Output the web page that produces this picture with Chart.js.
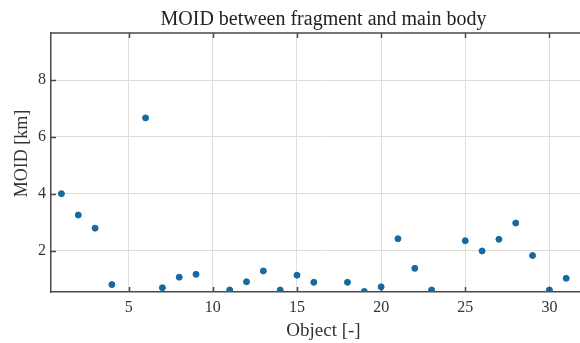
<!DOCTYPE html>
<html>
<head>
<meta charset="utf-8">
<script src="https://cdn.jsdelivr.net/npm/chart.js@4"></script>
<style>
  html, body { margin: 0; padding: 0; background: #fff; overflow: hidden; }
  #wrap { width: 600px; height: 343px; }
</style>
</head>
<body>
<div id="wrap"><canvas id="moidChart" width="600" height="343"></canvas></div>
<script>
// object index and MOID values (null = not visible)
const objects = [1, 2, 3, 4, 5, 6, 7, 8, 9, 10, 11, 12, 13, 14, 15, 16,
                 17, 18, 19, 20, 21, 22, 23, 24, 25, 26, 27, 28, 29, 30, 31];
const moid = [4.01, 3.26, 2.80, 0.82, null, 6.67, 0.71, 1.08, 1.18, null, 0.63, 0.92, 1.30, 0.63, 1.15, 0.90,
              null, 0.90, 0.58, 0.74, 2.43, 1.39, 0.63, null, 2.36, 2.00, 2.41, 2.98, 1.84, 0.63, 1.04];
const xTicks = [5, 10, 15, 20, 25, 30];
const yTicks = [2, 4, 6, 8];

const axisColor = '#4a4a4a';
const gridColor = '#dedede';
const serif = "'Liberation Serif', 'DejaVu Serif', serif";

// MATLAB style: ticks pointing inwards + top border of the box
const innerTicks = {
    id: 'innerTicks',
    afterDraw(chart) {
        const ctx = chart.ctx;
        const area = chart.chartArea;
        const x = chart.scales.x;
        const y = chart.scales.y;
        const len = 5;
        ctx.save();
        ctx.strokeStyle = axisColor;
        ctx.lineWidth = 1.5;
        ctx.beginPath();
        ctx.moveTo(area.left, area.top);
        ctx.lineTo(area.right, area.top);
        xTicks.forEach(v => {
            const px = Math.round(x.getPixelForValue(v)) + 0.5;
            ctx.moveTo(px, area.bottom);
            ctx.lineTo(px, area.bottom - len);
            ctx.moveTo(px, area.top);
            ctx.lineTo(px, area.top + len);
        });
        yTicks.forEach(v => {
            const py = Math.round(y.getPixelForValue(v)) + 0.5;
            ctx.moveTo(area.left, py);
            ctx.lineTo(area.left + len, py);
        });
        ctx.stroke();
        ctx.restore();
    }
};

const ctx = document.getElementById('moidChart').getContext('2d');
new Chart(ctx, {
    type: 'scatter',
    data: {
        labels: objects,
        datasets: [{
            data: objects.map((o, i) => ({ x: o, y: moid[i] })),
            backgroundColor: '#176a9e',
            borderColor: '#176a9e',
            pointRadius: 3,
            pointHoverRadius: 3
        }]
    },
    options: {
        responsive: false,
        animation: false,
        layout: { padding: 0 },
        plugins: {
            legend: { display: false },
            tooltip: { enabled: false },
            title: {
                display: true,
                text: 'MOID between fragment and main body',
                fullSize: false,
                color: '#222',
                font: { family: serif, size: 20, weight: 'normal' },
                padding: { top: 8, bottom: 1 }
            }
        },
        scales: {
            x: {
                type: 'linear',
                min: 0.38,
                max: 32.77,
                afterFit: s => { s.height = 51; },
                afterBuildTicks: s => { s.ticks = xTicks.map(v => ({ value: v })); },
                grid: { color: gridColor, drawTicks: false },
                border: { color: axisColor, width: 1.5 },
                ticks: { color: '#333', padding: 6, font: { family: serif, size: 16 } },
                title: {
                    display: true,
                    text: 'Object [-]',
                    color: '#333',
                    font: { family: serif, size: 19 },
                    padding: { top: 0, bottom: 1 }
                }
            },
            y: {
                min: 0.56,
                max: 9.65,
                afterFit: s => { s.width = 51; },
                afterBuildTicks: s => { s.ticks = yTicks.map(v => ({ value: v })); },
                grid: { color: gridColor, drawTicks: false },
                border: { color: axisColor, width: 1.5 },
                ticks: { color: '#333', padding: 5, font: { family: serif, size: 16 } },
                title: {
                    display: true,
                    // leading spaces nudge the label up like in the original
                    text: '    MOID [km]',
                    color: '#333',
                    font: { family: serif, size: 18 },
                    padding: { top: 11, bottom: 0 }
                }
            }
        }
    },
    plugins: [innerTicks]
});
</script>
</body>
</html>
